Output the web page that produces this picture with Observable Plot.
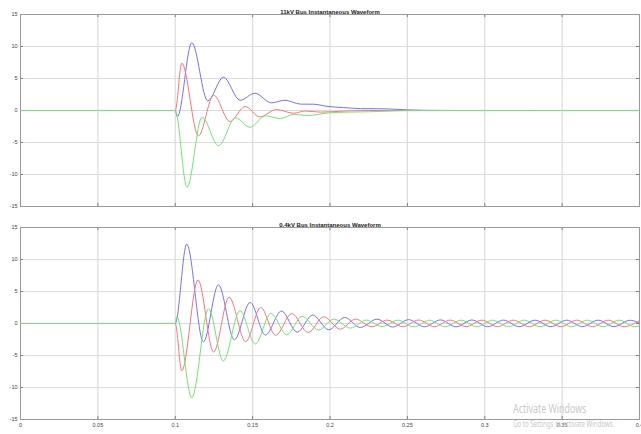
<!DOCTYPE html>
<html>
<head>
<meta charset="utf-8">
<script src="https://cdn.jsdelivr.net/npm/d3@7"></script>
<script src="https://cdn.jsdelivr.net/npm/@observablehq/plot@0.6"></script>
<style>
  html, body { margin: 0; padding: 0; background: #fff; }
  #wrap { position: relative; width: 641px; height: 434px; overflow: hidden; background: #fff; }
  #top, #bot { position: absolute; left: 0; }
  #top { top: 0; }
  #bot { top: 214px; }
  .wm1, .wm2 { position: absolute; left: 513px; color: #c9c9c9; font-family: "Noto Sans", "Open Sans", sans-serif; transform-origin: left top; white-space: nowrap; }
  .wm1 { top: 400px; font-size: 12px; transform: scaleX(0.74); }
  .wm2 { top: 418px; font-size: 8.5px; transform: scaleX(0.72); }
</style>
</head>
<body>
<div id="wrap">
  <div id="top"></div>
  <div id="bot"></div>
  <div class="wm1">Activate Windows</div>
  <div class="wm2">Go to Settings to activate Windows.</div>
</div>
<script>
// ---- tick values ----
const xTicks = [0, 0.05, 0.1, 0.15, 0.2, 0.25, 0.3, 0.35, 0.4];
const yTicks = [-15, -10, -5, 0, 5, 10, 15];
const xLabels = ["0", "0.05", "0.1", "0.15", "0.2", "0.25", "0.3", "0.35", "0.4"];

// ---- titles ----
const titleTop = "11kV Bus Instantaneous Waveform";
const titleBot = "0.4kV Bus Instantaneous Waveform";

// ---- 11kV bus: [time s, value] read at extrema ----
const topBlue = [[0,0],[0.1,0],[0.1014,-0.98],[0.1107,10.6],[0.121,1.5],[0.1311,5.2],[0.1419,1.6],[0.1515,2.7],[0.1621,1.2],[0.1709,1.6],[0.1809,1.0],[0.1895,0.98],[0.1981,0.65],[0.2087,0.45],[0.2196,0.3],[0.2369,0.25],[0.25,0.1],[0.262,0.03],[0.28,0],[0.4,0]];
const topRed = [[0,0],[0.1,0],[0.1042,7.4],[0.115,-3.95],[0.1248,2.4],[0.1353,-1.72],[0.1452,0.63],[0.1546,-1.0],[0.1654,0.15],[0.1764,-0.42],[0.1841,-0.08],[0.1938,-0.25],[0.21,-0.08],[0.225,0],[0.4,0]];
const topGreen = [[0,0],[0.1,0],[0.1076,-12.0],[0.1173,-1.05],[0.128,-5.5],[0.1389,-1.15],[0.1483,-2.62],[0.1583,-0.83],[0.168,-1.25],[0.1766,-0.6],[0.1852,-0.78],[0.199,-0.38],[0.212,-0.25],[0.225,-0.2],[0.24,-0.08],[0.26,0],[0.4,0]];

// ---- 0.4kV bus: [time s, value] read at extrema ----
const botBlue = [[0,0],[0.1,0],[0.1074,12.4],[0.1182,-2.86],[0.1279,6.05],[0.1382,-2.55],[0.1484,3.3],[0.1583,-1.8],[0.1686,1.95],[0.1788,-1.35],[0.1888,1.33],[0.1992,-0.98],[0.2095,0.94],[0.2196,-0.62],[0.2304,0.68],[0.2406,-0.55],[0.2508,0.6],[0.2611,-0.52],[0.2713,0.56],[0.2815,-0.52],[0.2917,0.55],[0.3019,-0.5],[0.3121,0.53],[0.3223,-0.5],[0.3325,0.52],[0.3427,-0.5],[0.3529,0.52],[0.3631,-0.5],[0.3733,0.52],[0.3835,-0.5],[0.3937,0.5],[0.4039,-0.5]];
const botRed = [[0,0],[0.1,0],[0.1042,-7.4],[0.1147,6.8],[0.1248,-4.45],[0.1348,4.1],[0.1455,-2.83],[0.1552,2.5],[0.1649,-1.85],[0.1753,1.56],[0.1859,-1.4],[0.1959,1.05],[0.2067,-0.88],[0.2164,0.68],[0.2272,-0.5],[0.2369,0.53],[0.2471,-0.5],[0.2573,0.55],[0.2675,-0.5],[0.2777,0.53],[0.2879,-0.5],[0.2981,0.52],[0.3083,-0.5],[0.3185,0.52],[0.3288,-0.5],[0.339,0.52],[0.3492,-0.5],[0.3594,0.52],[0.3696,-0.5],[0.3798,0.52],[0.39,-0.5],[0.4002,0.5]];
const botGreen = [[0,0],[0.1,0],[0.101,1.1],[0.1107,-11.6],[0.1215,2.3],[0.131,-5.85],[0.1418,2.0],[0.1517,-3.2],[0.1618,1.58],[0.172,-1.75],[0.182,1.1],[0.1927,-1.03],[0.2024,0.68],[0.2132,-0.72],[0.2235,0.53],[0.2337,-0.47],[0.2439,0.52],[0.2541,-0.52],[0.2643,0.52],[0.2745,-0.5],[0.2847,0.52],[0.2949,-0.5],[0.3051,0.52],[0.3153,-0.5],[0.3255,0.52],[0.3357,-0.5],[0.3459,0.52],[0.3561,-0.5],[0.3663,0.52],[0.3766,-0.5],[0.3868,0.52],[0.397,-0.5],[0.4072,0.5]];

const colors = {blue: "#7272ff", red: "#ff7474", green: "#72e472"};

function panel({height, marginTop, marginBottom, title, blue, red, green, showX}) {
  const plotH = height - marginTop - marginBottom;
  const plotW = 641 - 20 - 2;
  const gridStyle = {stroke: "#dcdcdc", strokeOpacity: 1, strokeWidth: 1.2};
  const tickStyle = {stroke: "#808080", strokeWidth: 1};
  const marks = [
    Plot.gridY(yTicks, gridStyle),
    Plot.gridX(xTicks, gridStyle),
    Plot.tickX(xTicks, {x: d => d, insetBottom: plotH - 3, ...tickStyle}),
    Plot.tickX(xTicks, {x: d => d, insetTop: plotH - 3, ...tickStyle}),
    Plot.tickY(yTicks, {y: d => d, insetLeft: plotW - 3, ...tickStyle}),
    Plot.tickY(yTicks, {y: d => d, insetRight: plotW - 3, ...tickStyle}),
    Plot.frame({stroke: "#9a9a9a", strokeWidth: 1}),
    Plot.axisY(yTicks, {anchor: "left", tickSize: 0, tickPadding: 3, label: null, tickFormat: d => String(d), fill: "#444"}),
    Plot.line(blue, {x: d => d[0], y: d => d[1], stroke: colors.blue, strokeWidth: 1, curve: "monotone-x", clip: true}),
    Plot.line(red, {x: d => d[0], y: d => d[1], stroke: colors.red, strokeWidth: 1, curve: "monotone-x", clip: true}),
    Plot.line(green, {x: d => d[0], y: d => d[1], stroke: colors.green, strokeWidth: 1, curve: "monotone-x", clip: true}),
    Plot.text([title], {frameAnchor: "top", dy: -5, fontWeight: "bold", fontSize: 6, fill: "#222"})
  ];
  if (showX) {
    marks.push(Plot.axisX(xTicks, {anchor: "bottom", tickSize: 0, tickPadding: 4, label: null, tickFormat: (d, i) => xLabels[i], fill: "#444"}));
  }
  return Plot.plot({
    width: 641,
    height,
    marginLeft: 20,
    marginRight: 2,
    marginTop,
    marginBottom,
    style: {fontFamily: "'Liberation Sans Narrow', 'Liberation Sans', Arial, sans-serif", fontSize: "5.5px", background: "transparent", color: "#444"},
    x: {domain: [0, 0.4], axis: null},
    y: {domain: [-15, 15], axis: null},
    marks
  });
}

document.getElementById("top").appendChild(panel({height: 214, marginTop: 14, marginBottom: 8, title: titleTop, blue: topBlue, red: topRed, green: topGreen, showX: false}));
document.getElementById("bot").appendChild(panel({height: 220, marginTop: 13, marginBottom: 15, title: titleBot, blue: botBlue, red: botRed, green: botGreen, showX: true}));
</script>
</body>
</html>
